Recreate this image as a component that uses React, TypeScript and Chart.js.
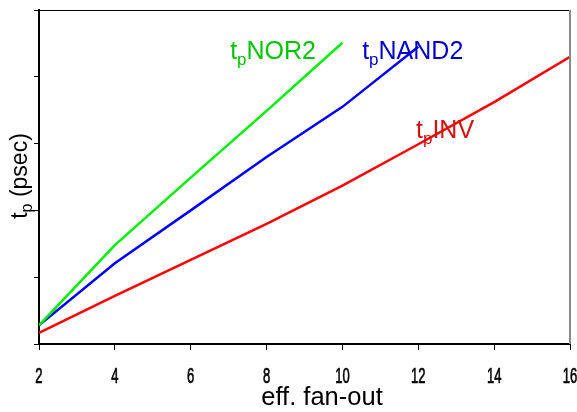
import React, { useEffect, useRef } from "react";
import { Chart, registerables } from "chart.js";

Chart.register(...registerables);

// ---- data (y in arbitrary psec units) ----
const fanOut = [2, 4, 6, 8, 10, 12, 14, 16];
const tpINV = [0.165, 0.72, 1.26, 1.8, 2.37, 2.99, 3.62, 4.3];
const tpNAND2 = [0.28, 1.21, 2.0, 2.8, 3.55, 4.45];
const tpNOR2 = [0.28, 1.48, 2.49, 3.49, 4.51];
const xTickValues = [2, 4, 6, 8, 10, 12, 14, 16];
const yTickValues = [0, 1, 2, 3, 4, 5];

const seriesNames = ["NOR2", "NAND2", "INV"];
const labelAnchorX = [7.04, 10.52, 11.94];
const labelAnchorY = [4.26, 4.26, 3.08];

const lineColors = ["#00ee00", "#0000ff", "#ff0000"];
const textColors = ["#00c400", "#0000c8", "#d01414"];

const SANS = '"Liberation Sans", Arial, Helvetica, sans-serif';

type Seg = { text: string; sub?: boolean };

function drawRich(ctx: CanvasRenderingContext2D, segs: Seg[], x: number, y: number, size: number, subSize: number, subDrop: number, center: boolean) {
  let total = 0;
  for (const s of segs) {
    ctx.font = `${s.sub ? subSize : size}px ${SANS}`;
    total += ctx.measureText(s.text).width;
  }
  let cx = center ? x - total / 2 : x;
  ctx.textAlign = "left";
  ctx.textBaseline = "alphabetic";
  for (const s of segs) {
    ctx.font = `${s.sub ? subSize : size}px ${SANS}`;
    ctx.fillText(s.text, cx, s.sub ? y + subDrop : y);
    cx += ctx.measureText(s.text).width;
  }
}

const decorPlugin = {
  id: "decor",
  afterDraw(chart: any) {
    const { ctx, chartArea, scales } = chart;
    const { left, right, top, bottom } = chartArea;
    ctx.save();
    // top frame line and right frame line
    ctx.fillStyle = "#000";
    ctx.fillRect(left, top, right - left, 1);
    ctx.fillStyle = "#8a8a8a";
    ctx.fillRect(right - 1, top, 2, bottom - top);

    // x tick labels (condensed digits)
    ctx.fillStyle = "#000";
    ctx.strokeStyle = "#000";
    ctx.lineWidth = 0.7;
    ctx.font = `22.5px ${SANS}`;
    ctx.textAlign = "center";
    ctx.textBaseline = "alphabetic";
    for (const t of scales.x.ticks) {
      const px = scales.x.getPixelForValue(t.value);
      ctx.save();
      ctx.translate(px, 383);
      ctx.scale(0.58, 1);
      ctx.fillText(String(t.value), 0, 0);
      ctx.strokeText(String(t.value), 0, 0);
      ctx.restore();
    }

    // series labels
    for (let i = 0; i < seriesNames.length; i++) {
      const px = scales.x.getPixelForValue(labelAnchorX[i]);
      const py = scales.y.getPixelForValue(labelAnchorY[i]);
      ctx.fillStyle = textColors[i];
      drawRich(ctx, [{ text: "t" }, { text: "p", sub: true }, { text: seriesNames[i] }], px, py, 25, 17, 6, false);
    }

    // x title
    ctx.fillStyle = "#000";
    drawRich(ctx, [{ text: "eff. fan-out" }], 322, 405, 25.5, 17, 6, true);

    // y title (rotated)
    ctx.translate(27, (top + bottom) / 2 - 1);
    ctx.rotate(-Math.PI / 2);
    drawRich(ctx, [{ text: "t" }, { text: "p", sub: true }, { text: " (psec)" }], 0, 0, 23, 16, 5, true);
    ctx.restore();
  },
};

export default function App() {
  const ref = useRef<HTMLCanvasElement | null>(null);

  useEffect(() => {
    if (!ref.current) return;
    const mk = (ys: number[]) => ys.map((y, i) => ({ x: fanOut[i], y }));
    const chart = new Chart(ref.current, {
      type: "line",
      data: {
        datasets: [
          { label: "NOR2", data: mk(tpNOR2), borderColor: lineColors[0], borderWidth: 2.5, pointRadius: 0, tension: 0 },
          { label: "NAND2", data: mk(tpNAND2), borderColor: lineColors[1], borderWidth: 2.5, pointRadius: 0, tension: 0 },
          { label: "INV", data: mk(tpINV), borderColor: lineColors[2], borderWidth: 2.5, pointRadius: 0, tension: 0 },
        ],
      },
      options: {
        animation: false,
        responsive: false,
        devicePixelRatio: 1,
        layout: { padding: { top: 10, right: 7, left: 0, bottom: 0 } },
        plugins: { legend: { display: false }, tooltip: { enabled: false } },
        scales: {
          x: {
            type: "linear",
            min: 2,
            max: 16,
            afterBuildTicks: (s: any) => {
              s.ticks = xTickValues.map((v) => ({ value: v }));
            },
            afterFit: (s: any) => {
              s.height = 68;
              s.paddingLeft = 0;
              s.paddingRight = 0;
            },
            ticks: { display: false },
            grid: { drawOnChartArea: false, drawTicks: true, tickLength: 6, color: "#000", lineWidth: 1 },
            border: { color: "#000", width: 2 },
          },
          y: {
            type: "linear",
            min: 0,
            max: 5,
            afterBuildTicks: (s: any) => {
              s.ticks = yTickValues.map((v) => ({ value: v }));
            },
            afterFit: (s: any) => {
              s.width = 39;
              s.paddingTop = 0;
              s.paddingBottom = 0;
            },
            ticks: { display: false },
            grid: { drawOnChartArea: false, drawTicks: true, tickLength: 5, color: "#000", lineWidth: 1 },
            border: { color: "#000", width: 2 },
          },
        },
      },
      plugins: [decorPlugin],
    } as any);
    return () => chart.destroy();
  }, []);

  return (
    <div style={{ position: "fixed", left: 0, top: 0, width: 577, height: 412, background: "#fff" }}>
      <canvas ref={ref} width={577} height={412} style={{ width: 577, height: 412, display: "block" }} />
    </div>
  );
}
